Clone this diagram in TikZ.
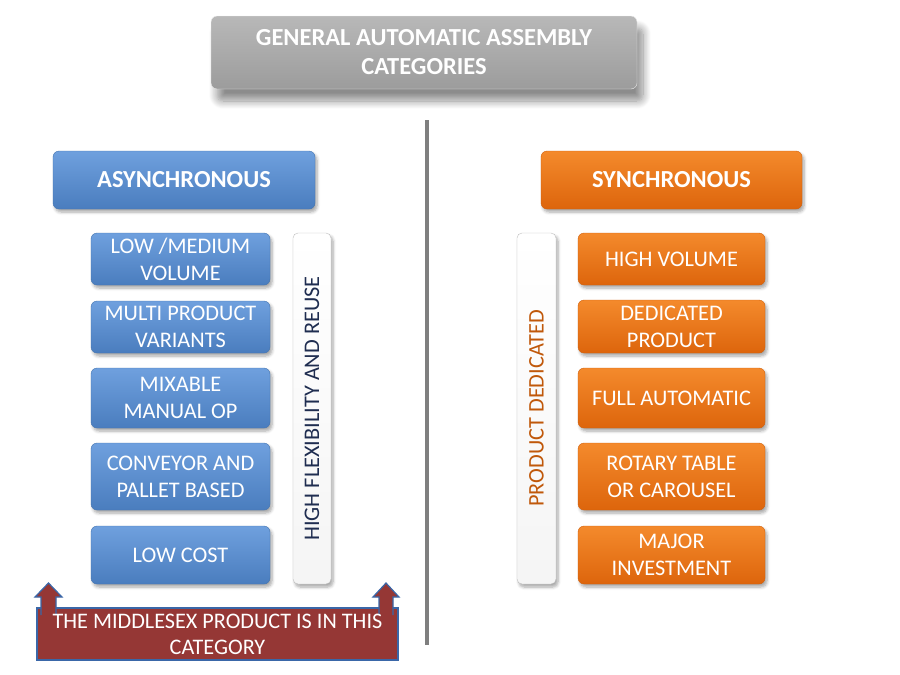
\documentclass[tikz,border=0pt]{standalone}
\usepackage{fontspec}
\setmainfont{Carlito}
\usetikzlibrary{shadows,shadows.blur}
\definecolor{bluetop}{HTML}{6FA0DE}
\definecolor{bluebot}{HTML}{4A7DBE}
\definecolor{blueedge}{HTML}{4575B0}
\definecolor{orangetop}{HTML}{F48A2C}
\definecolor{orangebot}{HTML}{DD650C}
\definecolor{orangeedge}{HTML}{D0620F}
\definecolor{graytop}{HTML}{B8B8B8}
\definecolor{graybot}{HTML}{9C9C9C}
\definecolor{navytext}{HTML}{1F2D50}
\definecolor{browntext}{HTML}{C0580A}
\definecolor{darkred}{HTML}{953735}
\definecolor{borderblue}{HTML}{3A67A8}
\definecolor{divider}{HTML}{7F7F7F}
\tikzset{
  base/.style={rounded corners=6pt, align=center, inner sep=0pt,
    blur shadow={shadow xshift=2pt, shadow yshift=-3pt, shadow opacity=35, shadow blur steps=6, shadow blur radius=3pt}},
  headblue/.style={base, top color=bluetop, bottom color=bluebot, draw=blueedge,
    text=white, font=\bfseries\fontsize{24.5}{28}\selectfont},
  headorange/.style={base, top color=orangetop, bottom color=orangebot, draw=orangeedge,
    text=white, font=\bfseries\fontsize{24.5}{28}\selectfont},
  itemblue/.style={base, top color=bluetop, bottom color=bluebot, draw=blueedge,
    text=white, font=\fontsize{22.3}{27}\selectfont},
  itemorange/.style={base, top color=orangetop, bottom color=orangebot, draw=orangeedge,
    text=white, font=\fontsize{22.3}{27}\selectfont},
  titlebox/.style={rounded corners=6pt, align=center, inner sep=0pt,
    top color=graytop, bottom color=graybot, draw=white!85!gray,
    text=white, font=\bfseries\fontsize{24.5}{29}\selectfont,
    blur shadow={shadow xshift=6pt, shadow yshift=-12pt, shadow opacity=45, shadow blur steps=10, shadow blur radius=8pt}},
  sidebar/.style={base, rounded corners=5pt, top color=white, bottom color=white!92!gray,
    draw=gray!50},
  sidetext/.style={rotate=90, font=\fontsize{22.3}{26}\selectfont},
  upblock/.style={fill=darkred, draw=borderblue, line width=1.2pt, line join=miter},
  notebox/.style={fill=darkred, draw=borderblue, line width=1.5pt},
}
\begin{document}
\begin{tikzpicture}[x=1pt, y=-1pt]
\useasboundingbox (0,0) rectangle (900,675);
% title
\node[titlebox, minimum width=426pt, minimum height=73pt] (title) at (424,52.5)
  {GENERAL AUTOMATIC ASSEMBLY\\CATEGORIES};
% divider
\coordinate (dtop) at (427,120);
\coordinate (dbot) at (427,645);
\draw[divider, line width=3.5pt] (dtop) -- (dbot);
% headings
\node[headblue, minimum width=262pt, minimum height=58pt] (async) at (184,180) {ASYNCHRONOUS};
\node[headorange, minimum width=261pt, minimum height=58pt] (sync) at (671.5,180) {SYNCHRONOUS};
% left items
\node[itemblue, minimum width=179pt, minimum height=52pt] (l1) at (180.5,259) {LOW /MEDIUM\\VOLUME};
\node[itemblue, minimum width=179pt, minimum height=52pt] (l2) at (180.5,327) {MULTI PRODUCT\\VARIANTS};
\node[itemblue, minimum width=179pt, minimum height=60pt] (l3) at (180.5,398) {MIXABLE\\MANUAL OP};
\node[itemblue, minimum width=179pt, minimum height=67pt] (l4) at (180.5,476.5) {CONVEYOR AND\\PALLET BASED};
\node[itemblue, minimum width=179pt, minimum height=58pt] (l5) at (180.5,555) {LOW COST};
% right items
\node[itemorange, minimum width=187pt, minimum height=52pt] (r1) at (671.5,259) {HIGH VOLUME};
\node[itemorange, minimum width=187pt, minimum height=53pt] (r2) at (671.5,326.5) {DEDICATED\\PRODUCT};
\node[itemorange, minimum width=187pt, minimum height=60pt] (r3) at (671.5,398) {FULL AUTOMATIC};
\node[itemorange, minimum width=187pt, minimum height=67pt] (r4) at (671.5,476.5) {ROTARY TABLE\\OR CAROUSEL};
\node[itemorange, minimum width=187pt, minimum height=58pt] (r5) at (671.5,555) {MAJOR\\INVESTMENT};
% side bars
\node[sidebar, minimum width=38pt, minimum height=351pt] (lbar) at (312,408.5) {};
\node[sidetext, text=navytext] (ltext) at (lbar.center) {HIGH FLEXIBILITY AND REUSE};
\node[sidebar, minimum width=39pt, minimum height=351pt] (rbar) at (536.5,408.5) {};
\node[sidetext, text=browntext] (rtext) at (rbar.center) {PRODUCT DEDICATED};
% bottom note
\node[notebox, minimum width=361pt, minimum height=52pt, inner sep=0pt] (note) at (217.5,634) {};
\draw[upblock] (41,615) -- (41,597) -- (35,597) -- (48.5,583) -- (62,597) -- (56,597) -- (56,615);
\draw[upblock] (379,615) -- (379,597) -- (373,597) -- (386,583) -- (399,597) -- (393,597) -- (393,615);
\node[text=white, align=center, font=\fontsize{22.2}{26}\selectfont] (notetext) at (note.center)
  {THE MIDDLESEX PRODUCT IS IN THIS\\CATEGORY};
\end{tikzpicture}
\end{document}
